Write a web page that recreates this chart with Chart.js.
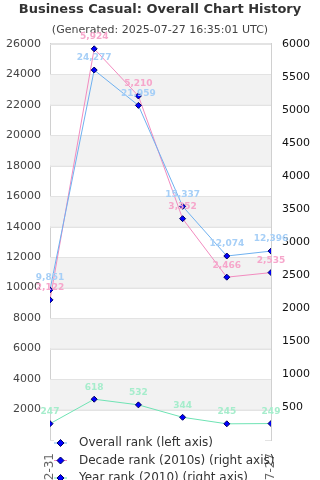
<!DOCTYPE html>
<html>
<head>
<meta charset="utf-8">
<script src="https://cdn.jsdelivr.net/npm/chart.js@4.4.1/dist/chart.umd.min.js"></script>
<style>
    html, body { margin: 0; padding: 0; background: #fff; overflow: hidden; }
    #wrap { position: relative; width: 320px; height: 520px; }
</style>
</head>
<body>
<div id="wrap"><canvas id="historyChart"></canvas></div>
<script>
// chart dates (only first and last are readable in the original)
const dates = ['2010-12-31', '2012-12-31', '2015-12-31', '2018-12-31', '2021-12-31', '2025-07-27'];
const overallRank = [9851, 24277, 21959, 15337, 12074, 12396];
const decadeRank = [2122, 5924, 5210, 3352, 2466, 2535];
const yearRank = [247, 618, 532, 344, 245, 249];

const seriesNames = ['Overall rank (left axis)', 'Decade rank (2010s) (right axis)', 'Year rank (2010) (right axis)'];
const lineColors = ['#6fb1f0', '#f28bbf', '#6fe3b4'];
const labelColors = ['#a6cff7', '#f6a6cb', '#a6edcc'];

const FONT = "'DejaVu Sans', sans-serif";

// alternate grey bands behind the left axis grid
const bandsPlugin = {
    id: 'bands',
    beforeDatasetsDraw(chart) {
        const { ctx, chartArea } = chart;
        const scale = chart.scales.y;
        const ticks = scale.ticks;
        ctx.save();
        ctx.fillStyle = '#f2f2f2';
        for (let i = 1; i < ticks.length - 1; i += 2) {
            const yA = scale.getPixelForValue(ticks[i].value);
            const yB = scale.getPixelForValue(ticks[i + 1].value);
            ctx.fillRect(chartArea.left, yB, chartArea.right - chartArea.left, yA - yB);
        }
        // redraw horizontal grid lines over the bands
        ctx.strokeStyle = '#e3e3e3';
        ctx.lineWidth = 1;
        ticks.forEach(t => {
            const y = Math.round(scale.getPixelForValue(t.value)) + 0.5;
            ctx.beginPath();
            ctx.moveTo(chartArea.left, y);
            ctx.lineTo(chartArea.right, y);
            ctx.stroke();
        });
        ctx.restore();
    }
};

// value labels above each point
const valueLabels = {
    id: 'valueLabels',
    afterDatasetsDraw(chart) {
        const ctx = chart.ctx;
        ctx.save();
        ctx.font = 'bold 9px ' + FONT;
        ctx.textAlign = 'center';
        ctx.textBaseline = 'middle';
        chart.data.datasets.forEach((ds, i) => {
            const meta = chart.getDatasetMeta(i);
            ctx.fillStyle = labelColors[i];
            meta.data.forEach((pt, j) => {
                ctx.fillText(ds.data[j].toLocaleString('en-US'), pt.x, pt.y - 12);
            });
        });
        ctx.restore();
    }
};

function diamond(ctx, x, y, r) {
    ctx.beginPath();
    ctx.moveTo(x, y - r);
    ctx.lineTo(x + r, y);
    ctx.lineTo(x, y + r);
    ctx.lineTo(x - r, y);
    ctx.closePath();
    ctx.fill();
    ctx.stroke();
}

// floating legend over the bottom of the chart
const floatLegend = {
    id: 'floatLegend',
    afterDraw(chart) {
        const { ctx, chartArea } = chart;
        const left = chartArea.left + 4;
        const top = chartArea.bottom - 7;
        ctx.save();
        ctx.fillStyle = '#fff';
        ctx.fillRect(left, top, 211, 60);
        ctx.font = '12px ' + FONT;
        ctx.textBaseline = 'middle';
        chart.data.datasets.forEach((ds, i) => {
            const y = top + 10 + i * 17.5;
            ctx.strokeStyle = ds.borderColor;
            ctx.lineWidth = 1;
            ctx.beginPath();
            ctx.moveTo(left, y);
            ctx.lineTo(left + 13, y);
            ctx.stroke();
            ctx.fillStyle = '#0000ff';
            ctx.strokeStyle = '#000060';
            diamond(ctx, left + 6.5, y, 3.5);
            ctx.fillStyle = '#333';
            ctx.fillText(ds.label, left + 25, y);
        });
        ctx.restore();
    }
};

function makeSet(i, data, axis) {
    return {
        label: seriesNames[i],
        data: data,
        yAxisID: axis,
        borderColor: lineColors[i],
        borderWidth: 1,
        pointStyle: 'rectRot',
        pointRadius: 3,
        pointBackgroundColor: '#0000ff',
        pointBorderColor: '#000060',
        pointBorderWidth: 1,
        tension: 0,
        fill: false,
        clip: 0,
    };
}

new Chart(document.getElementById('historyChart'), {
    type: 'line',
    data: {
        labels: dates,
        datasets: [
            makeSet(0, overallRank, 'y'),
            makeSet(1, decadeRank, 'y1'),
            makeSet(2, yearRank, 'y1'),
        ]
    },
    options: {
        responsive: true,
        maintainAspectRatio: false,
        animation: false,
        layout: { padding: 0 },
        plugins: {
            legend: { display: false },
            tooltip: { enabled: false },
            title: {
                display: true,
                text: 'Business Casual: Overall Chart History',
                color: '#333',
                font: { family: FONT, size: 13, weight: 'bold' },
                padding: { top: 2, bottom: 3 }
            },
            subtitle: {
                display: true,
                text: '(Generated: 2025-07-27 16:35:01 UTC)',
                color: '#444',
                font: { family: FONT, size: 11 },
                padding: { top: 3, bottom: 7 }
            }
        },
        scales: {
            x: {
                offset: false,
                grid: { display: false, drawTicks: false },
                border: { display: false },
                ticks: {
                    color: '#666',
                    font: { family: FONT, size: 12 },
                    minRotation: 90,
                    maxRotation: 90,
                    autoSkip: false,
                    padding: 13
                },
                afterFit: s => { s.height = 80; }
            },
            y: {
                position: 'left',
                min: 0,
                max: 26000,
                grid: { color: '#e3e3e3', drawTicks: false },
                border: { display: true, color: '#d0d0d0' },
                ticks: {
                    stepSize: 2000,
                    color: '#444',
                    font: { family: FONT, size: 11 },
                    padding: 9,
                    callback: v => v === 0 ? '' : String(v)
                },
                afterFit: s => { s.width = 50; }
            },
            y1: {
                position: 'right',
                min: 0,
                max: 6000,
                grid: { drawOnChartArea: false, drawTicks: false },
                border: { display: true, color: '#d0d0d0' },
                ticks: {
                    stepSize: 500,
                    color: '#111',
                    font: { family: FONT, size: 11 },
                    padding: 11,
                    callback: v => v === 0 ? '' : String(v)
                },
                afterFit: s => { s.width = 49; }
            }
        }
    },
    plugins: [bandsPlugin, valueLabels, floatLegend]
});
</script>
</body>
</html>
